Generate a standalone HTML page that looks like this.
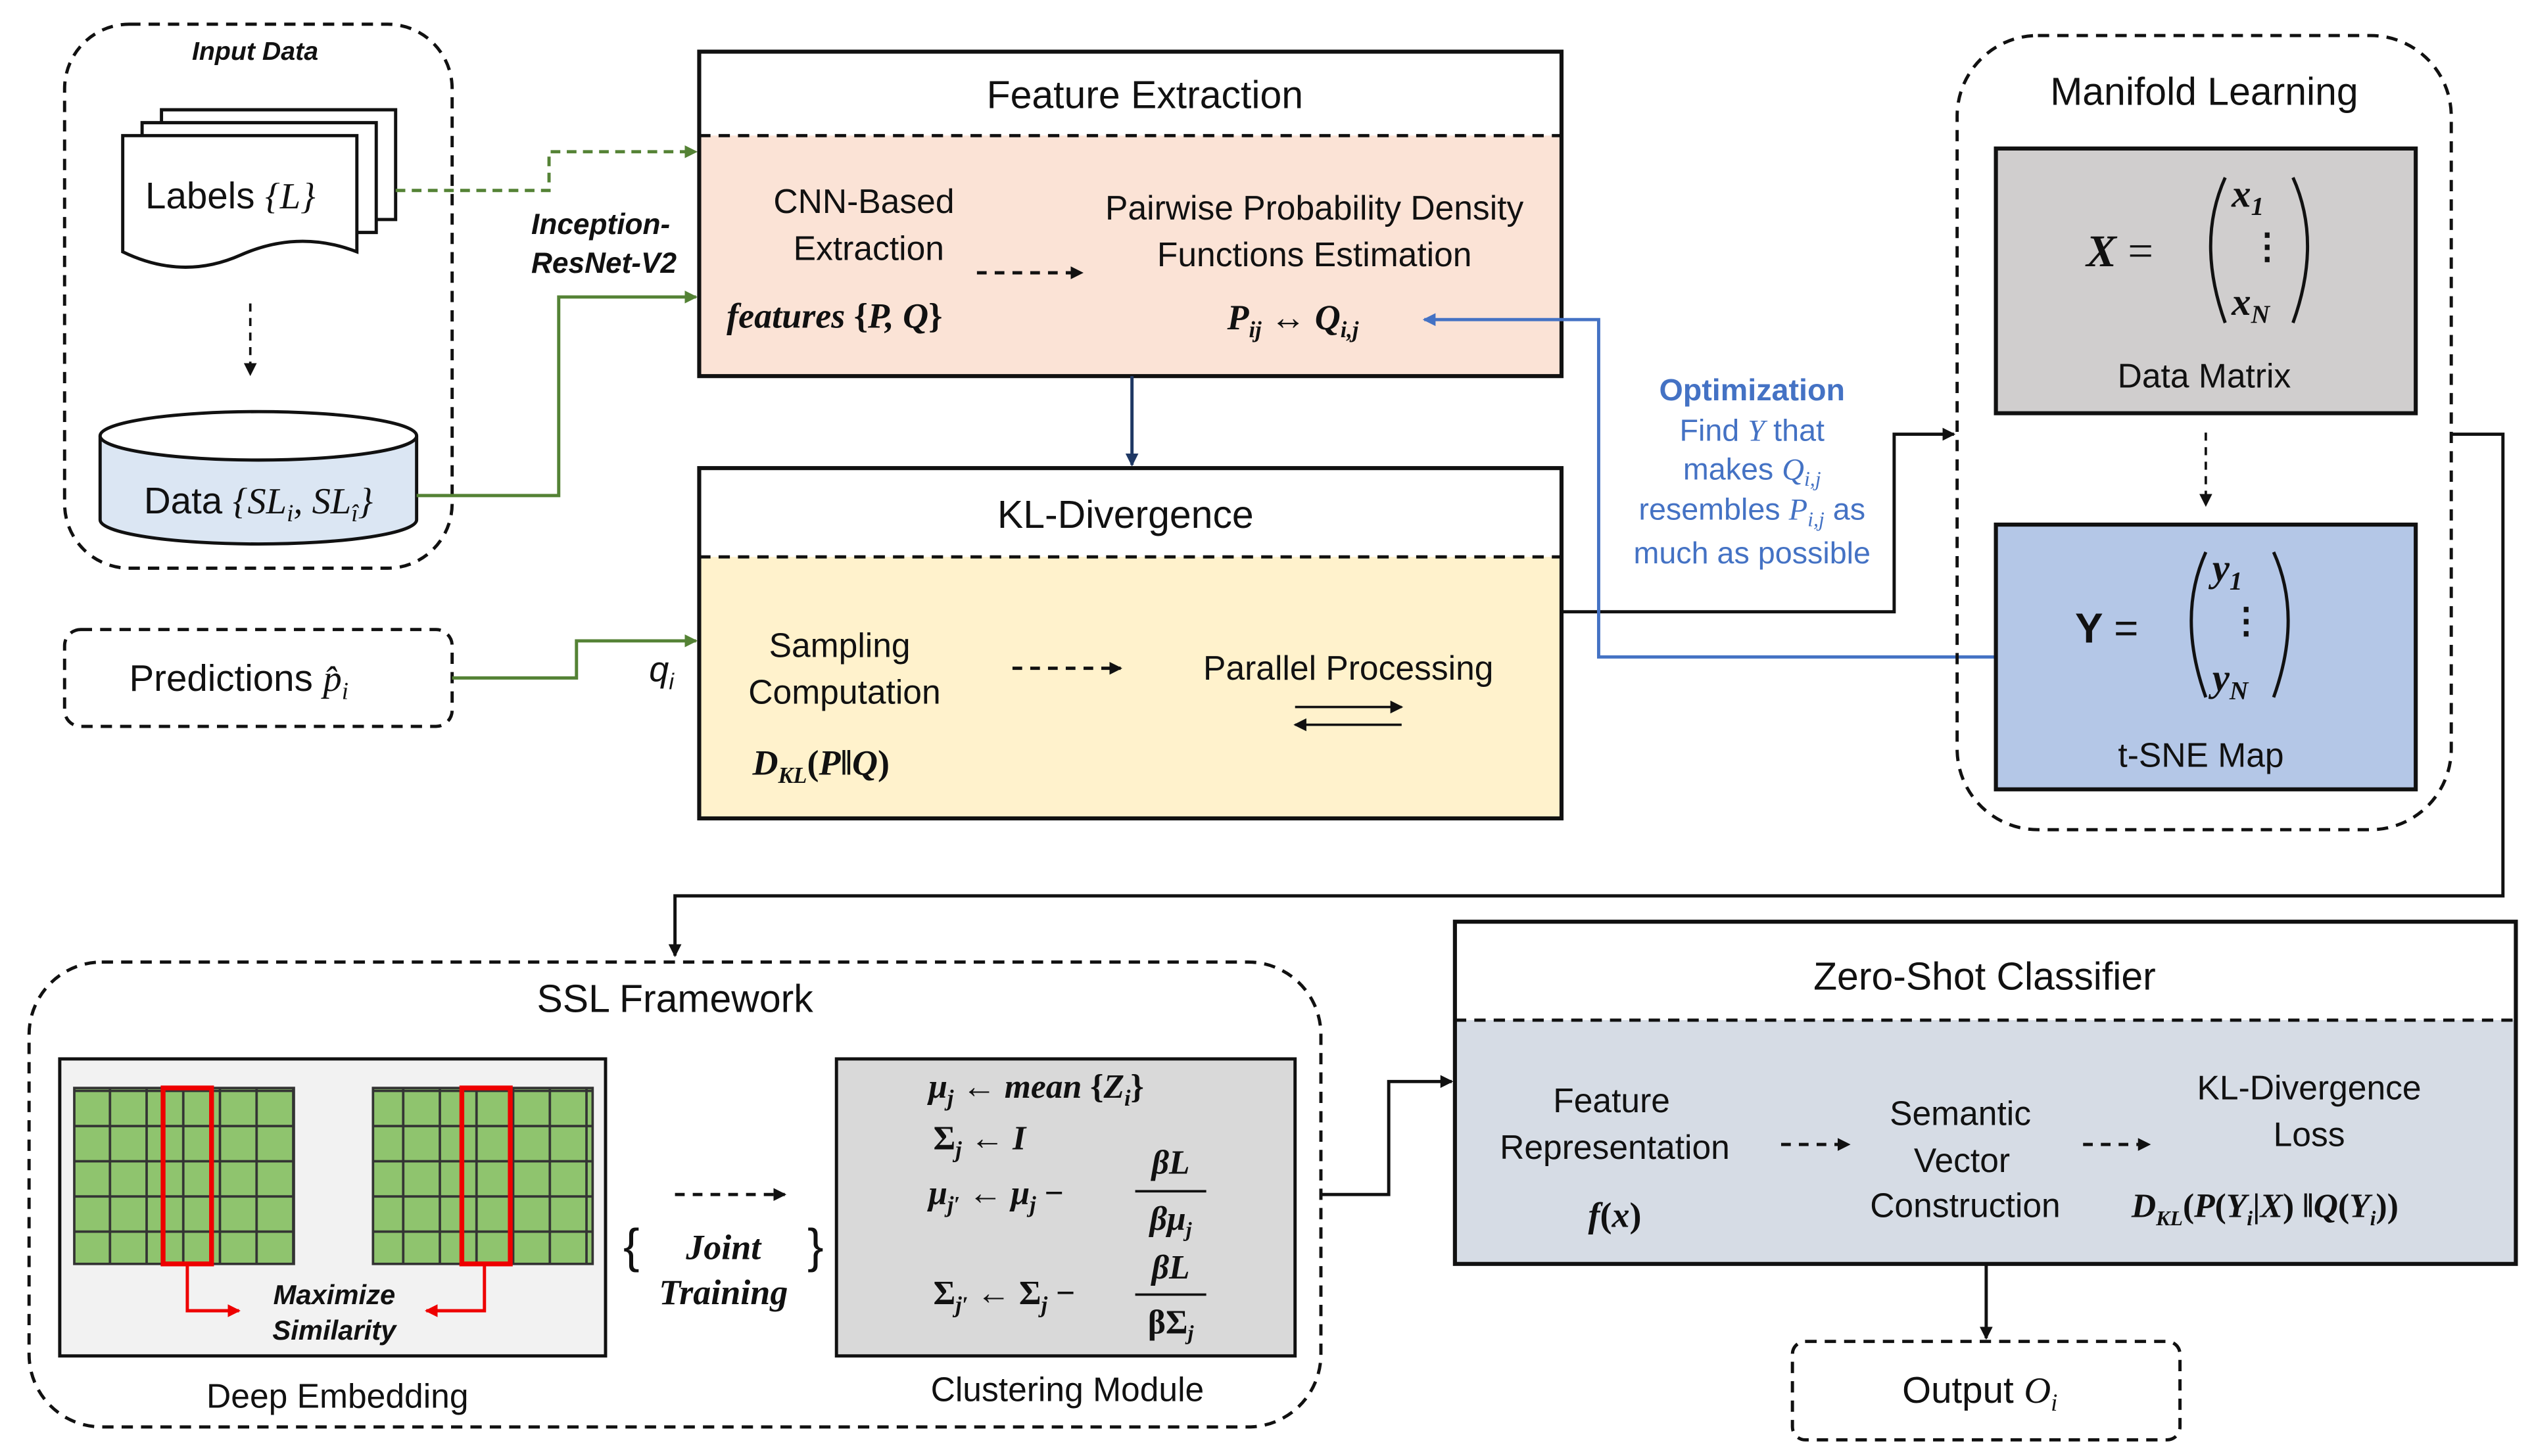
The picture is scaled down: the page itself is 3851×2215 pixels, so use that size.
<!DOCTYPE html>
<html><head><meta charset="utf-8"><style>
html,body{margin:0;padding:0;background:#fff;}
svg{display:block;}
text{font-family:"Liberation Sans",sans-serif;fill:#111;}
.m{font-family:"Liberation Serif",serif;font-weight:bold;font-style:italic;}
</style></head><body>
<svg width="3851" height="2215" viewBox="0 0 1568 902" preserveAspectRatio="none" xmlns="http://www.w3.org/2000/svg">
<defs>
<marker id="ak" markerWidth="8" markerHeight="8" refX="7" refY="4" orient="auto" markerUnits="userSpaceOnUse"><path d="M0,0 L8,4 L0,8 z" fill="#111"/></marker>
<marker id="ag" markerWidth="8" markerHeight="8" refX="7" refY="4" orient="auto" markerUnits="userSpaceOnUse"><path d="M0,0 L8,4 L0,8 z" fill="#548235"/></marker>
<marker id="ab" markerWidth="8" markerHeight="8" refX="7" refY="4" orient="auto" markerUnits="userSpaceOnUse"><path d="M0,0 L8,4 L0,8 z" fill="#4472c4"/></marker>
<marker id="an" markerWidth="8" markerHeight="8" refX="7" refY="4" orient="auto" markerUnits="userSpaceOnUse"><path d="M0,0 L8,4 L0,8 z" fill="#1f3864"/></marker>
<marker id="ar" markerWidth="8" markerHeight="8" refX="7" refY="4" orient="auto" markerUnits="userSpaceOnUse"><path d="M0,0 L8,4 L0,8 z" fill="#e00"/></marker>
<pattern id="grid" width="22.7" height="21.8" patternUnits="userSpaceOnUse"><rect width="22.7" height="21.8" fill="#8fc46e" stroke="#333" stroke-width="1.5"/></pattern>
</defs>

<!-- Input data -->
<rect x="40" y="15" width="240" height="337" rx="40" fill="none" stroke="#111" stroke-width="2" stroke-dasharray="7,5"/>
<text x="158" y="37" font-size="16" font-weight="bold" font-style="italic" text-anchor="middle">Input Data</text>
<path d="M100,68 h145 v68 h-145 z" fill="#fff" stroke="#111" stroke-width="2"/>
<path d="M88,76 h145 v68 h-145 z" fill="#fff" stroke="#111" stroke-width="2"/>
<path d="M76,84 h145 v72 q-36,-14 -72,2 q-36,16 -73,-2 z" fill="#fff" stroke="#111" stroke-width="2"/>
<text x="90" y="129" font-size="23">Labels <tspan font-family="Liberation Serif" font-style="italic">{L}</tspan></text>
<line x1="155" y1="188" x2="155" y2="232" stroke="#111" stroke-width="1.5" stroke-dasharray="5,4" marker-end="url(#ak)"/>
<path d="M62,270 v52 a98,15 0 0 0 196,0 v-52" fill="#dbe6f3" stroke="#111" stroke-width="2"/>
<ellipse cx="160" cy="270" rx="98" ry="15" fill="#fff" stroke="#111" stroke-width="2"/>
<text x="160" y="318" font-size="23" text-anchor="middle">Data <tspan font-family="Liberation Serif" font-style="italic">{SL<tspan font-size="15" dy="5">i</tspan><tspan dy="-5">, SL</tspan><tspan font-size="15" dy="5">î</tspan><tspan dy="-5">}</tspan></tspan></text>

<rect x="40" y="390" width="240" height="60" rx="10" fill="none" stroke="#111" stroke-width="2" stroke-dasharray="7,5"/>
<text x="80" y="428" font-size="23">Predictions <tspan font-family="Liberation Serif" font-style="italic">p̂<tspan font-size="15" dy="5">i</tspan></tspan></text>

<!-- connectors input -->
<path d="M245,118 H340 V94 H431" fill="none" stroke="#548235" stroke-width="2" stroke-dasharray="6,4" marker-end="url(#ag)"/>
<path d="M258,307 H346 V184 H431" fill="none" stroke="#548235" stroke-width="2" marker-end="url(#ag)"/>
<path d="M280,420 H357 V397 H431" fill="none" stroke="#548235" stroke-width="2" marker-end="url(#ag)"/>
<text x="372" y="145" font-size="18" font-weight="bold" font-style="italic" text-anchor="middle">Inception-</text>
<text x="374" y="169" font-size="18" font-weight="bold" font-style="italic" text-anchor="middle">ResNet-V2</text>
<text x="402" y="422" font-size="22" font-family="Liberation Serif" font-style="italic">q<tspan font-size="14" dy="5">i</tspan></text>

<!-- Feature Extraction -->
<rect x="433" y="84" width="534" height="149" fill="#fbe3d6"/>
<rect x="433" y="32" width="534" height="201" fill="none" stroke="#111" stroke-width="2.5"/>
<line x1="433" y1="84" x2="967" y2="84" stroke="#111" stroke-width="2" stroke-dasharray="7,5"/>
<text x="709" y="67" font-size="24" text-anchor="middle">Feature Extraction</text>
<text x="535" y="132" font-size="21" text-anchor="middle">CNN-Based</text>
<text x="538" y="161" font-size="21" text-anchor="middle">Extraction</text>
<text x="814" y="136" font-size="21" text-anchor="middle">Pairwise Probability Density</text>
<text x="814" y="165" font-size="21" text-anchor="middle">Functions Estimation</text>
<line x1="605" y1="169" x2="670" y2="169" stroke="#111" stroke-width="2" stroke-dasharray="6,5" marker-end="url(#ak)"/>
<text x="450" y="203" font-size="22" class="m">features <tspan font-style="normal">{</tspan>P, Q<tspan font-style="normal">}</tspan></text>
<text x="760" y="204" font-size="22" class="m">P<tspan font-size="14" dy="5">ij</tspan><tspan dy="-5" font-style="normal"> ↔ </tspan>Q<tspan font-size="14" dy="5">i,j</tspan></text>

<line x1="701" y1="233" x2="701" y2="288" stroke="#1f3864" stroke-width="2" marker-end="url(#an)"/>

<!-- KL -->
<rect x="433" y="345" width="534" height="162" fill="#fff2cc"/>
<rect x="433" y="290" width="534" height="217" fill="none" stroke="#111" stroke-width="2.5"/>
<line x1="433" y1="345" x2="967" y2="345" stroke="#111" stroke-width="2" stroke-dasharray="7,5"/>
<text x="697" y="327" font-size="24" text-anchor="middle">KL-Divergence</text>
<text x="520" y="407" font-size="21" text-anchor="middle">Sampling</text>
<text x="523" y="436" font-size="21" text-anchor="middle">Computation</text>
<text x="466" y="480" font-size="22" class="m">D<tspan font-size="14" dy="5">KL</tspan><tspan dy="-5" font-style="normal">(</tspan>P<tspan font-style="normal">‖</tspan>Q<tspan font-style="normal">)</tspan></text>
<line x1="627" y1="414" x2="694" y2="414" stroke="#111" stroke-width="2" stroke-dasharray="6,5" marker-end="url(#ak)"/>
<text x="835" y="421" font-size="21" text-anchor="middle">Parallel Processing</text>
<line x1="802" y1="438" x2="868" y2="438" stroke="#111" stroke-width="1.5" marker-end="url(#ak)"/>
<line x1="868" y1="449" x2="802" y2="449" stroke="#111" stroke-width="1.5" marker-end="url(#ak)"/>

<!-- connectors to manifold -->
<path d="M967,379 H1173 V269 H1210" fill="none" stroke="#111" stroke-width="2" marker-end="url(#ak)"/>
<path d="M1236,407 H990 V198 H882" fill="none" stroke="#4472c4" stroke-width="2" marker-end="url(#ab)"/>
<rect x="1000" y="228" width="170" height="128" fill="#fff"/>
<text x="1085" y="248" font-size="19" font-weight="bold" fill="#4472c4" text-anchor="middle" style="fill:#4472c4">Optimization</text>
<text x="1085" y="273" font-size="19" text-anchor="middle" style="fill:#4472c4">Find <tspan font-family="Liberation Serif" font-style="italic">Y</tspan> that</text>
<text x="1085" y="297" font-size="19" text-anchor="middle" style="fill:#4472c4">makes <tspan font-family="Liberation Serif" font-style="italic">Q<tspan font-size="13" dy="4">i,j</tspan></tspan></text>
<text x="1085" y="322" font-size="19" text-anchor="middle" style="fill:#4472c4">resembles <tspan font-family="Liberation Serif" font-style="italic">P<tspan font-size="13" dy="4">i,j</tspan></tspan><tspan dy="-4"> as</tspan></text>
<text x="1085" y="349" font-size="19" text-anchor="middle" style="fill:#4472c4">much as possible</text>

<!-- Manifold -->
<rect x="1212" y="22" width="306" height="492" rx="50" fill="none" stroke="#111" stroke-width="2" stroke-dasharray="7,5"/>
<text x="1365" y="65" font-size="24" text-anchor="middle">Manifold Learning</text>
<rect x="1236" y="92" width="260" height="164" fill="#d0cece" stroke="#111" stroke-width="2.5"/>
<text x="1292" y="165" font-size="28" class="m">X <tspan font-style="normal" font-weight="normal">=</tspan></text>
<path d="M1378,110 q-18,40 0,90" fill="none" stroke="#111" stroke-width="2"/>
<path d="M1420,110 q18,40 0,90" fill="none" stroke="#111" stroke-width="2"/>
<text x="1382" y="128" font-size="24" class="m">x<tspan font-size="16" dy="5">1</tspan></text>
<text x="1393" y="160" font-size="22" font-weight="bold">⋮</text>
<text x="1382" y="195" font-size="24" class="m">x<tspan font-size="16" dy="5">N</tspan></text>
<text x="1365" y="240" font-size="21" text-anchor="middle">Data Matrix</text>
<line x1="1366" y1="268" x2="1366" y2="313" stroke="#111" stroke-width="1.5" stroke-dasharray="5,4" marker-end="url(#ak)"/>
<rect x="1236" y="325" width="260" height="164" fill="#b4c7e7" stroke="#111" stroke-width="2.5"/>
<text x="1285" y="398" font-size="26" font-weight="bold">Y <tspan font-weight="normal">=</tspan></text>
<path d="M1366,342 q-18,40 0,90" fill="none" stroke="#111" stroke-width="2"/>
<path d="M1408,342 q18,40 0,90" fill="none" stroke="#111" stroke-width="2"/>
<text x="1370" y="360" font-size="24" class="m">y<tspan font-size="16" dy="5">1</tspan></text>
<text x="1380" y="392" font-size="22" font-weight="bold">⋮</text>
<text x="1370" y="428" font-size="24" class="m">y<tspan font-size="16" dy="5">N</tspan></text>
<text x="1363" y="475" font-size="21" text-anchor="middle">t-SNE Map</text>

<path d="M1518,269 H1550 V555 H418 V592" fill="none" stroke="#111" stroke-width="2" marker-end="url(#ak)"/>

<!-- SSL -->
<rect x="18" y="596" width="800" height="288" rx="45" fill="none" stroke="#111" stroke-width="2" stroke-dasharray="7,5"/>
<text x="418" y="627" font-size="24" text-anchor="middle">SSL Framework</text>
<rect x="37" y="656" width="338" height="184" fill="#f2f2f2" stroke="#111" stroke-width="2"/>
<rect x="46" y="674" width="136" height="109" fill="url(#grid)" stroke="#333" stroke-width="1.5"/>
<rect x="231" y="674" width="136" height="109" fill="url(#grid)" stroke="#333" stroke-width="1.5"/>
<rect x="101" y="674" width="30" height="109" fill="none" stroke="#e00" stroke-width="3"/>
<rect x="286" y="674" width="30" height="109" fill="none" stroke="#e00" stroke-width="3"/>
<path d="M116,783 V812 H148" fill="none" stroke="#e00" stroke-width="2" marker-end="url(#ar)"/>
<path d="M300,783 V812 H264" fill="none" stroke="#e00" stroke-width="2" marker-end="url(#ar)"/>
<text x="207" y="808" font-size="17" font-weight="bold" font-style="italic" text-anchor="middle">Maximize</text>
<text x="207" y="830" font-size="17" font-weight="bold" font-style="italic" text-anchor="middle">Similarity</text>
<text x="209" y="872" font-size="21" text-anchor="middle">Deep Embedding</text>
<line x1="418" y1="740" x2="486" y2="740" stroke="#111" stroke-width="2" stroke-dasharray="6,5" marker-end="url(#ak)"/>
<text x="386" y="782" font-size="30" font-family="Liberation Serif">{</text>
<text x="500" y="782" font-size="30" font-family="Liberation Serif">}</text>
<text x="448" y="780" font-size="22" class="m" text-anchor="middle">Joint</text>
<text x="448" y="808" font-size="22" class="m" text-anchor="middle">Training</text>
<rect x="518" y="656" width="284" height="184" fill="#d9d9d9" stroke="#111" stroke-width="2"/>
<text x="575" y="680" font-size="21" class="m">μ<tspan font-size="14" dy="5">j</tspan><tspan dy="-5" font-style="normal"> ← </tspan>mean<tspan font-style="normal"> {</tspan>Z<tspan font-size="14" dy="5">i</tspan><tspan dy="-5" font-style="normal">}</tspan></text>
<text x="578" y="712" font-size="21" class="m"><tspan font-style="normal">Σ</tspan><tspan font-size="14" dy="5">j</tspan><tspan dy="-5" font-style="normal"> ← </tspan>I</text>
<text x="575" y="746" font-size="21" class="m">μ<tspan font-size="14" dy="5">j′</tspan><tspan dy="-5" font-style="normal"> ← </tspan>μ<tspan font-size="14" dy="5">j</tspan><tspan dy="-5" font-style="normal"> − </tspan></text>
<line x1="703" y1="738" x2="747" y2="738" stroke="#111" stroke-width="1.5"/>
<text x="725" y="727" font-size="21" class="m" text-anchor="middle">βL</text>
<text x="725" y="762" font-size="21" class="m" text-anchor="middle">βμ<tspan font-size="13" dy="4">j</tspan></text>
<text x="578" y="808" font-size="21" class="m"><tspan font-style="normal">Σ</tspan><tspan font-size="14" dy="5">j′</tspan><tspan dy="-5" font-style="normal"> ← Σ</tspan><tspan font-size="14" dy="5">j</tspan><tspan dy="-5" font-style="normal"> − </tspan></text>
<line x1="703" y1="802" x2="747" y2="802" stroke="#111" stroke-width="1.5"/>
<text x="725" y="792" font-size="21" class="m" text-anchor="middle">βL</text>
<text x="725" y="826" font-size="21" class="m" text-anchor="middle"><tspan font-style="normal">βΣ</tspan><tspan font-size="13" dy="4">j</tspan></text>
<text x="661" y="868" font-size="21" text-anchor="middle">Clustering Module</text>

<path d="M818,740 H860 V670 H899" fill="none" stroke="#111" stroke-width="2" marker-end="url(#ak)"/>

<!-- ZSC -->
<rect x="901" y="632" width="657" height="151" fill="#d6dce5"/>
<rect x="901" y="571" width="657" height="212" fill="none" stroke="#111" stroke-width="2.5"/>
<line x1="901" y1="632" x2="1558" y2="632" stroke="#111" stroke-width="2" stroke-dasharray="7,5"/>
<text x="1229" y="613" font-size="24" text-anchor="middle">Zero-Shot Classifier</text>
<text x="998" y="689" font-size="21" text-anchor="middle">Feature</text>
<text x="1000" y="718" font-size="21" text-anchor="middle">Representation</text>
<text x="1000" y="760" font-size="22" class="m" text-anchor="middle">f<tspan font-style="normal">(</tspan>x<tspan font-style="normal">)</tspan></text>
<line x1="1103" y1="709" x2="1145" y2="709" stroke="#111" stroke-width="2" stroke-dasharray="6,5" marker-end="url(#ak)"/>
<text x="1214" y="697" font-size="21" text-anchor="middle">Semantic</text>
<text x="1215" y="726" font-size="21" text-anchor="middle">Vector</text>
<text x="1217" y="754" font-size="21" text-anchor="middle">Construction</text>
<line x1="1290" y1="709" x2="1331" y2="709" stroke="#111" stroke-width="2" stroke-dasharray="6,5" marker-end="url(#ak)"/>
<text x="1430" y="681" font-size="21" text-anchor="middle">KL-Divergence</text>
<text x="1430" y="710" font-size="21" text-anchor="middle">Loss</text>
<text x="1320" y="754" font-size="21" class="m">D<tspan font-size="13" dy="5">KL</tspan><tspan dy="-5" font-style="normal">(</tspan>P<tspan font-style="normal">(</tspan>Y<tspan font-size="13" dy="5">i</tspan><tspan dy="-5" font-style="normal">|</tspan>X<tspan font-style="normal">) ‖</tspan>Q<tspan font-style="normal">(</tspan>Y<tspan font-size="13" dy="5">i</tspan><tspan dy="-5" font-style="normal">))</tspan></text>

<line x1="1230" y1="783" x2="1230" y2="829" stroke="#111" stroke-width="2" marker-end="url(#ak)"/>
<rect x="1110" y="831" width="240" height="61" rx="8" fill="none" stroke="#111" stroke-width="2" stroke-dasharray="7,5"/>
<text x="1178" y="869" font-size="23">Output <tspan font-family="Liberation Serif" font-style="italic">O<tspan font-size="15" dy="5">i</tspan></tspan></text>
</svg>
</body></html>
